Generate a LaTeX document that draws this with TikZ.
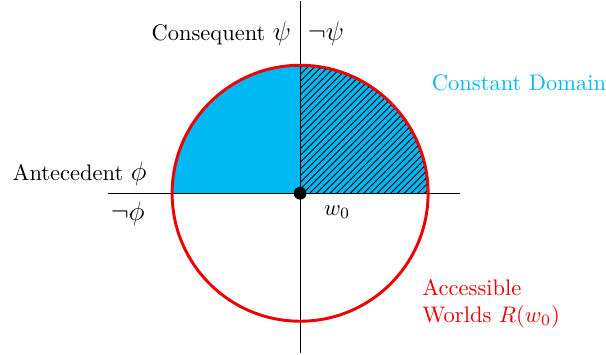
\documentclass[tikz,border=0pt]{standalone}
\usetikzlibrary{patterns}
\definecolor{domcyan}{RGB}{0,184,241}
\definecolor{worldred}{RGB}{238,0,0}
\begin{document}
\begin{tikzpicture}[
  axis/.style={line width=0.5pt,black},
  lbl/.style={inner sep=1pt}
]
\useasboundingbox (-4.69,-2.52) rectangle (4.78,3.02);
\coordinate (O) at (0,0);
% filled upper half
\fill[domcyan] (2,0) arc (0:180:2) -- cycle;
\fill[pattern=north east lines] (0,0) -- (2,0) arc (0:90:2) -- cycle;
% axes
\coordinate (xl) at (-3,0);
\coordinate (xr) at (2.5,0);
\coordinate (yb) at (0,-2.5);
\coordinate (yt) at (0,3);
\draw[axis] (xl) -- (xr);
\draw[axis] (yb) -- (yt);
% circle
\draw[worldred,line width=1.3pt] (O) circle (2);
\fill (O) circle (0.1);
% labels
\node[lbl,anchor=east] (cons) at (-0.1,2.5) {Consequent {\large$\psi$}};
\node[lbl,anchor=west] (ncons) at (0.08,2.5) {{\large$\neg\psi$}};
\node[lbl,anchor=east] (ante) at (-2.36,0.3) {Antecedent {\large$\phi$}};
\node[lbl,anchor=west] (nante) at (-3.0,-0.32) {{\large$\neg\phi$}};
\node[lbl] (w) at (0.58,-0.3) {$w_0$};
\node[lbl,text=domcyan] (cd) at (3.42,1.73) {Constant Domain};
\node[lbl,text=worldred,anchor=west,align=left] (aw) at (1.87,-1.72) {Accessible\\Worlds $R(w_0)$};
\end{tikzpicture}
\end{document}
